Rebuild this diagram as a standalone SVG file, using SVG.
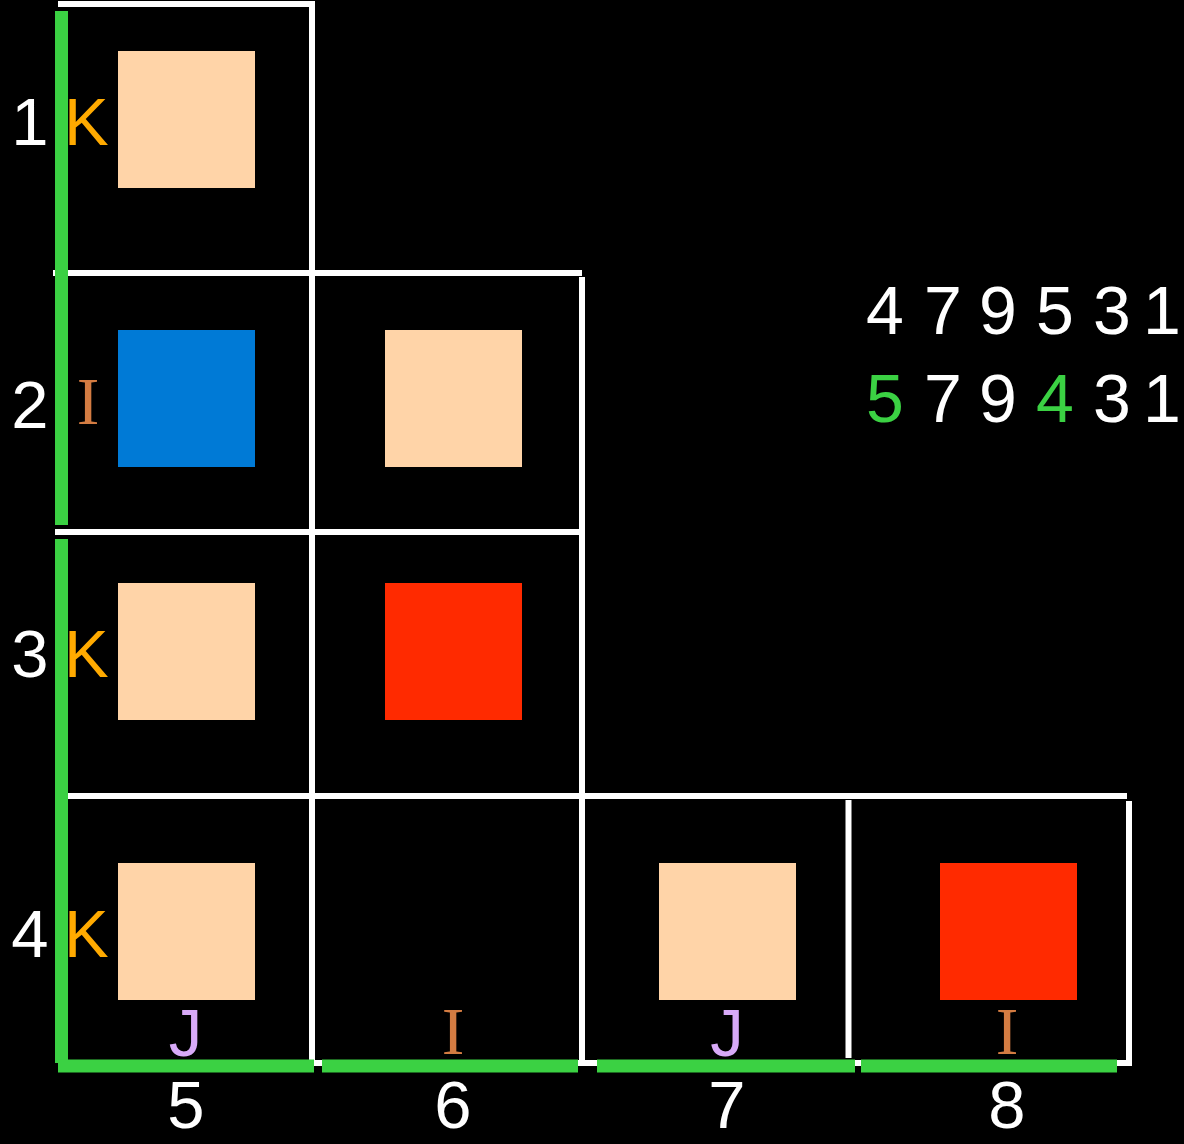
<svg xmlns="http://www.w3.org/2000/svg" width="1184" height="1144" viewBox="0 0 1184 1144">
<style>
.w{stroke:#FFFFFF;stroke-width:6;fill:none}
.g{stroke:#3BD143;stroke-width:13;fill:none}
.peach{fill:#FFD4A8}
.blue{fill:#007AD6}
.red{fill:#FF2A00}
.lab{font-family:"Liberation Sans",Arial,Helvetica,sans-serif;font-size:67px}
.ser{font-family:"Liberation Serif","Times New Roman",serif;font-size:68px;fill:#D47C42}
.num{fill:#FFFFFF;text-anchor:middle}
.k{fill:#FFAA00}
.j{fill:#D8AAF8;text-anchor:middle}
.seq{font-family:"Liberation Sans",Arial,sans-serif;font-size:68px;text-anchor:middle;fill:#FFFFFF}
.hl{fill:#3BD143}
</style>
<rect x="0" y="0" width="1184" height="1144" fill="#000000"/>
<g id="grid">
<line class="w" x1="58" y1="4" x2="315" y2="4"/>
<line class="w" x1="312" y1="1" x2="312" y2="1066"/>
<line class="w" x1="53" y1="273" x2="582" y2="273"/>
<line class="w" x1="582" y1="277" x2="582" y2="1066"/>
<line class="w" x1="55" y1="532" x2="585" y2="532"/>
<line class="w" x1="68" y1="796" x2="1127" y2="796"/>
<line class="w" x1="848.5" y1="800" x2="848.5" y2="1058"/>
<line class="w" x1="1129" y1="801" x2="1129" y2="1066"/>
<line class="w" x1="58" y1="1063" x2="1132" y2="1063"/>
</g>
<g id="connectors">
<line class="g" x1="61.5" y1="11" x2="61.5" y2="525"/>
<line class="g" x1="61.5" y1="539" x2="61.5" y2="1063"/>
<line class="g" x1="58" y1="1066" x2="314" y2="1066"/>
<line class="g" x1="322" y1="1066" x2="578" y2="1066"/>
<line class="g" x1="597" y1="1066" x2="855" y2="1066"/>
<line class="g" x1="861" y1="1066" x2="1117" y2="1066"/>
</g>
<g id="cell-1-5"><rect class="peach" x="118" y="51" width="137" height="137"/></g>
<g id="cell-2-5"><rect class="blue" x="118" y="330" width="137" height="137"/></g>
<g id="cell-2-6"><rect class="peach" x="385" y="330" width="137" height="137"/></g>
<g id="cell-3-5"><rect class="peach" x="118" y="583" width="137" height="137"/></g>
<g id="cell-3-6"><rect class="red" x="385" y="583" width="137" height="137"/></g>
<g id="cell-4-5"><rect class="peach" x="118" y="863" width="137" height="137"/></g>
<g id="cell-4-7"><rect class="peach" x="659" y="863" width="137" height="137"/></g>
<g id="cell-4-8"><rect class="red" x="940" y="863" width="137" height="137"/></g>
<g id="row-labels">
<text class="lab num" x="30" y="145">1</text>
<text class="lab num" x="30" y="428">2</text>
<text class="lab num" x="30" y="677">3</text>
<text class="lab num" x="30" y="957">4</text>
<text class="lab k" x="64" y="145">K</text>
<text class="ser" x="88" y="424" text-anchor="middle">I</text>
<text class="lab k" x="64" y="677">K</text>
<text class="lab k" x="64" y="957">K</text>
</g>
<g id="col-labels">
<text class="lab j" x="185.5" y="1056">J</text>
<text class="ser" x="453" y="1054" text-anchor="middle">I</text>
<text class="lab j" x="727" y="1056">J</text>
<text class="ser" x="1007" y="1054" text-anchor="middle">I</text>
<text class="lab num" x="186" y="1128">5</text>
<text class="lab num" x="453" y="1128">6</text>
<text class="lab num" x="727" y="1128">7</text>
<text class="lab num" x="1007" y="1128">8</text>
</g>
<g id="sequences">
<text class="seq" x="885" y="334">4</text>
<text class="seq" x="943" y="334">7</text>
<text class="seq" x="998" y="334">9</text>
<text class="seq" x="1055" y="334">5</text>
<text class="seq" x="1112" y="334">3</text>
<text class="seq" x="1162" y="334">1</text>
<text class="seq hl" x="885" y="422">5</text>
<text class="seq" x="943" y="422">7</text>
<text class="seq" x="998" y="422">9</text>
<text class="seq hl" x="1055" y="422">4</text>
<text class="seq" x="1112" y="422">3</text>
<text class="seq" x="1162" y="422">1</text>
</g>
</svg>
